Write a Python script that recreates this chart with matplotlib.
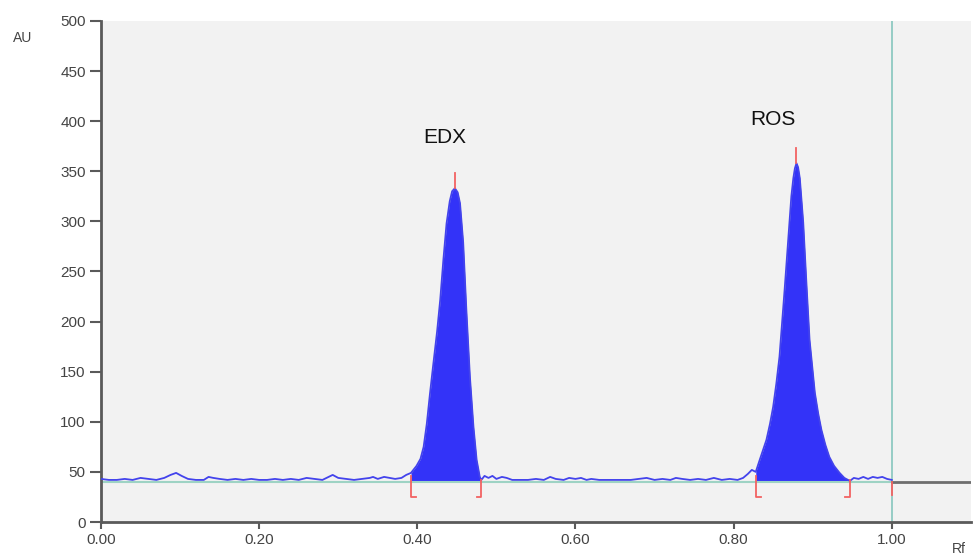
import numpy as np
import matplotlib.pyplot as plt

plt.rcParams['font.family'] = ['Liberation Sans', 'DejaVu Sans']

# densitogram trace (Rf, AU)
rf = [0.000, 0.010, 0.020, 0.030, 0.040, 0.050, 0.060, 0.070, 0.080, 0.088, 0.095,
      0.102, 0.110, 0.120, 0.130, 0.136, 0.142, 0.150, 0.160, 0.170, 0.180, 0.190,
      0.200, 0.210, 0.220, 0.230, 0.240, 0.250, 0.260, 0.270, 0.280, 0.293, 0.300,
      0.310, 0.320, 0.330, 0.340, 0.344, 0.350, 0.358, 0.365, 0.372, 0.380, 0.386,
      0.392, 0.399, 0.404, 0.408, 0.412, 0.416, 0.420, 0.425, 0.429, 0.433, 0.437,
      0.441, 0.444, 0.4475, 0.451, 0.454, 0.458, 0.462, 0.4665, 0.471, 0.475, 0.479,
      0.481, 0.485, 0.490, 0.495, 0.500, 0.507, 0.513, 0.520, 0.530, 0.540, 0.550,
      0.560, 0.568, 0.575, 0.585, 0.592, 0.600, 0.607, 0.614, 0.620, 0.630, 0.640,
      0.650, 0.660, 0.670, 0.680, 0.690, 0.700, 0.710, 0.720, 0.727, 0.735, 0.745,
      0.755, 0.765, 0.775, 0.785, 0.795, 0.805, 0.812, 0.818, 0.823, 0.828, 0.833,
      0.8415, 0.846, 0.850, 0.854, 0.858, 0.8645, 0.869, 0.873, 0.8755, 0.8775, 0.8795,
      0.8815, 0.8837, 0.888, 0.892, 0.896, 0.9027, 0.907, 0.911, 0.916, 0.921, 0.927,
      0.934, 0.940, 0.947, 0.952, 0.958, 0.964, 0.970, 0.976, 0.982, 0.988, 0.994,
      1.000]
au = [43, 42, 42, 43, 42, 44, 43, 42, 44, 47, 49,
      46, 43, 42, 42, 45, 44, 43, 42, 43, 42, 43,
      42, 42, 43, 42, 43, 42, 44, 43, 42, 47, 44,
      43, 42, 43, 44, 45, 43, 45, 44, 43, 44, 47,
      49, 56, 63, 75, 98, 128, 156, 190, 222, 262, 298,
      320, 330, 333, 329, 318, 279, 212, 145, 95, 62, 45,
      42, 46, 44, 46, 43, 45, 44, 42, 42, 42, 43,
      42, 45, 43, 42, 44, 43, 44, 42, 43, 42, 42,
      42, 42, 42, 43, 44, 42, 43, 42, 44, 43, 42,
      43, 42, 44, 42, 43, 42, 44, 48, 52, 50, 62,
      82, 98, 115, 138, 165, 232, 282, 325, 343, 353, 358,
      354, 343, 299, 239, 182, 129, 108, 92, 77, 65, 56,
      49, 44, 41, 44, 43, 45, 43, 45, 44, 45, 43,
      42]

baseline = 40
solvent_front = 1.00
peak_names = ['EDX', 'ROS']
peak_start = [0.392, 0.828]
peak_top = [0.4475, 0.8795]
peak_end = [0.481, 0.947]
peak_height = [333, 358]

fig = plt.figure(figsize=(9.73, 5.58), dpi=100)
ax = fig.add_axes([0.1038, 0.0645, 0.894, 0.898])
ax.set_facecolor('#f2f2f2')

rf = np.array(rf)
au = np.array(au)

# integrated peak areas
for s, e in zip(peak_start, peak_end):
    m = (rf >= s) & (rf <= e)
    ax.fill_between(rf[m], baseline, au[m], color='#3333f8', lw=0)

ax.plot([0, solvent_front], [baseline, baseline], color='#9ed3c4', lw=1.5, zorder=2)
ax.plot(rf, au, color='#4343ec', lw=1.3, zorder=3)
ax.plot([solvent_front, 1.10], [baseline, baseline], color='#6e6e6e', lw=2, zorder=3)
ax.axvline(solvent_front, color='#8fcac2', lw=1.3, zorder=2)

# peak markers
red = '#f26262'
for name, s, t, e, h in zip(peak_names, peak_start, peak_top, peak_end, peak_height):
    ax.plot([t, t], [h, h + 15], color=red, lw=1.3, zorder=4)
    ax.plot([s + 0.006, s, s], [25, 25, baseline + 6], color=red, lw=1.3, zorder=4)
    ax.plot([e - 0.006, e, e], [25, 25, baseline + 2], color=red, lw=1.3, zorder=4)
ax.plot([solvent_front, solvent_front], [27, baseline], color=red, lw=1.3, zorder=4)

ax.text(0.435, 384, 'EDX', fontsize=15, ha='center', va='center', color='#111111')
ax.text(0.8495, 402, 'ROS', fontsize=15, ha='center', va='center', color='#111111')

ax.set_xlim(0, 1.10)
ax.set_ylim(0, 500)
ax.set_xticks(np.arange(0, 1.01, 0.2))
ax.set_xticklabels(['%.2f' % v for v in np.arange(0, 1.01, 0.2)])
ax.set_yticks(np.arange(0, 501, 50))

for side in ['top', 'right']:
    ax.spines[side].set_visible(False)
for side in ['left', 'bottom']:
    ax.spines[side].set_color('#5a5a5a')
    ax.spines[side].set_linewidth(2)
ax.tick_params(axis='y', length=8, width=1.5, color='#5a5a5a', labelsize=11,
               labelcolor='#444444', pad=3)
ax.tick_params(axis='x', length=5, width=1.5, color='#5a5a5a', labelsize=11,
               labelcolor='#444444', pad=3)

fig.text(23 / 973, 1 - 38 / 558, 'AU', fontsize=10, ha='center', va='center', color='#444444')
fig.text(952 / 973, 0.003, 'Rf', fontsize=10, ha='left', va='bottom', color='#444444')

fig.savefig('out.png', dpi=100, facecolor='white')
